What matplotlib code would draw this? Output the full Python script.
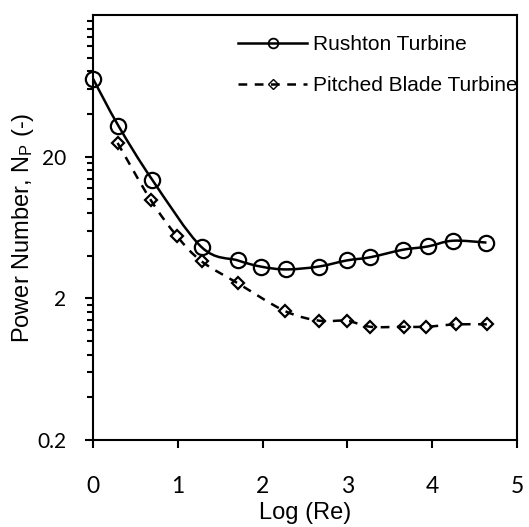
import matplotlib
matplotlib.use("Agg")
import matplotlib.pyplot as plt
from matplotlib.path import Path
from matplotlib.patches import PathPatch
from matplotlib.lines import Line2D
from matplotlib.ticker import FixedLocator, NullFormatter
import numpy as np

# data
rushton_x = [0.0, 0.30, 0.70, 1.28, 1.71, 1.98, 2.28, 2.66, 2.99, 3.27, 3.65, 3.95, 4.24, 4.64]
rushton_np = [71, 33, 13.7, 4.6, 3.7, 3.35, 3.2, 3.35, 3.7, 3.9, 4.4, 4.65, 5.1, 4.95]

pbt_x = [0.29, 0.68, 0.99, 1.28, 1.71, 2.26, 2.67, 2.99, 3.27, 3.67, 3.93, 4.28, 4.65]
pbt_np = [25, 9.9, 5.5, 3.65, 2.55, 1.63, 1.39, 1.39, 1.26, 1.26, 1.26, 1.31, 1.31]

y_ticks = [0.2, 2, 20]
y_tick_labels = ["0.2", "2", "20"]
x_ticks = [0, 1, 2, 3, 4, 5]

plt.rcParams['mathtext.fontset'] = 'custom'
plt.rcParams['mathtext.rm'] = 'Liberation Sans'
plt.rcParams['mathtext.it'] = 'Liberation Sans:italic'


def smooth_path(xs, ys):
    # Excel-like smoothed line: Catmull-Rom bezier in (x, log10 y) space
    px = np.asarray(xs, float)
    py = np.log10(np.asarray(ys, float))
    n = len(px)
    verts = [(px[0], py[0])]
    codes = [Path.MOVETO]
    for i in range(n - 1):
        i0 = max(i - 1, 0)
        i3 = min(i + 2, n - 1)
        c1 = (px[i] + (px[i + 1] - px[i0]) / 6, py[i] + (py[i + 1] - py[i0]) / 6)
        c2 = (px[i + 1] - (px[i3] - px[i]) / 6, py[i + 1] - (py[i3] - py[i]) / 6)
        verts += [c1, c2, (px[i + 1], py[i + 1])]
        codes += [Path.CURVE4] * 3
    verts = np.array(verts)
    verts[:, 1] = 10 ** verts[:, 1]
    return Path(verts, codes)


fig = plt.figure(figsize=(5.29, 5.27), dpi=100)
ax = fig.add_axes([93 / 529, 1 - 440 / 527, (517 - 93) / 529, (440 - 15) / 527])
ax.set_yscale('log')
ax.set_xlim(0, 5)
ax.set_ylim(0.2, 200)

lw = 1.8
dash = (0, (3.5, 3))
ax.add_patch(PathPatch(smooth_path(rushton_x, rushton_np), fill=False,
                       edgecolor='black', lw=lw, zorder=3))
ax.add_patch(PathPatch(smooth_path(pbt_x, pbt_np), fill=False,
                       edgecolor='black', lw=lw, linestyle=dash, zorder=3))

ax.plot(rushton_x, rushton_np, ls='none', marker='o', ms=11, mfc='none',
        mec='black', mew=1.6, zorder=4, clip_on=False)
ax.plot(pbt_x, pbt_np, ls='none', marker='D', ms=6.5, mfc='none',
        mec='black', mew=1.6, zorder=4, clip_on=False)

# ticks
ax.set_xticks(x_ticks)
ax.set_xticklabels([str(t) for t in x_ticks])
ax.yaxis.set_major_locator(FixedLocator(y_ticks))
ax.set_yticklabels(y_tick_labels)
minor = [b * k for b in (0.2, 2, 20) for k in range(2, 10)]
ax.yaxis.set_minor_locator(FixedLocator(minor))
ax.yaxis.set_minor_formatter(NullFormatter())

ax.tick_params(axis='both', which='major', direction='out', length=6, width=1.5)
ax.tick_params(axis='y', which='minor', direction='out', length=4.5, width=1.5)
ax.tick_params(axis='y', which='major', pad=13, labelsize=15)
ax.tick_params(axis='x', which='major', pad=20, labelsize=16.5)
for lab in ax.get_xticklabels() + ax.get_yticklabels():
    lab.set_fontfamily('Lato')

for s in ax.spines.values():
    s.set_linewidth(1.5)

ax.set_xlabel('Log (Re)', fontsize=17, family='Liberation Sans', labelpad=3.5)
ax.set_ylabel('Power Number, N$_\\mathrm{P}$ (-)', fontsize=17,
              family='Liberation Sans', labelpad=1)

handles = [
    Line2D([], [], color='black', lw=lw, marker='o', ms=7, mfc='none', mec='black', mew=1.3),
    Line2D([], [], color='black', lw=lw, ls=dash, marker='D', ms=5, mfc='none', mec='black', mew=1.0),
]
leg = ax.legend(handles, ['Rushton Turbine', 'Pitched Blade Turbine'],
                loc='center left', bbox_to_anchor=(228 / 529, 1 - 65 / 527),
                bbox_transform=fig.transFigure, frameon=False, borderpad=0,
                handlelength=3.3, handletextpad=0.3, labelspacing=1.05,
                prop={'family': 'Liberation Sans', 'size': 15})

fig.savefig('out.png', dpi=100)
